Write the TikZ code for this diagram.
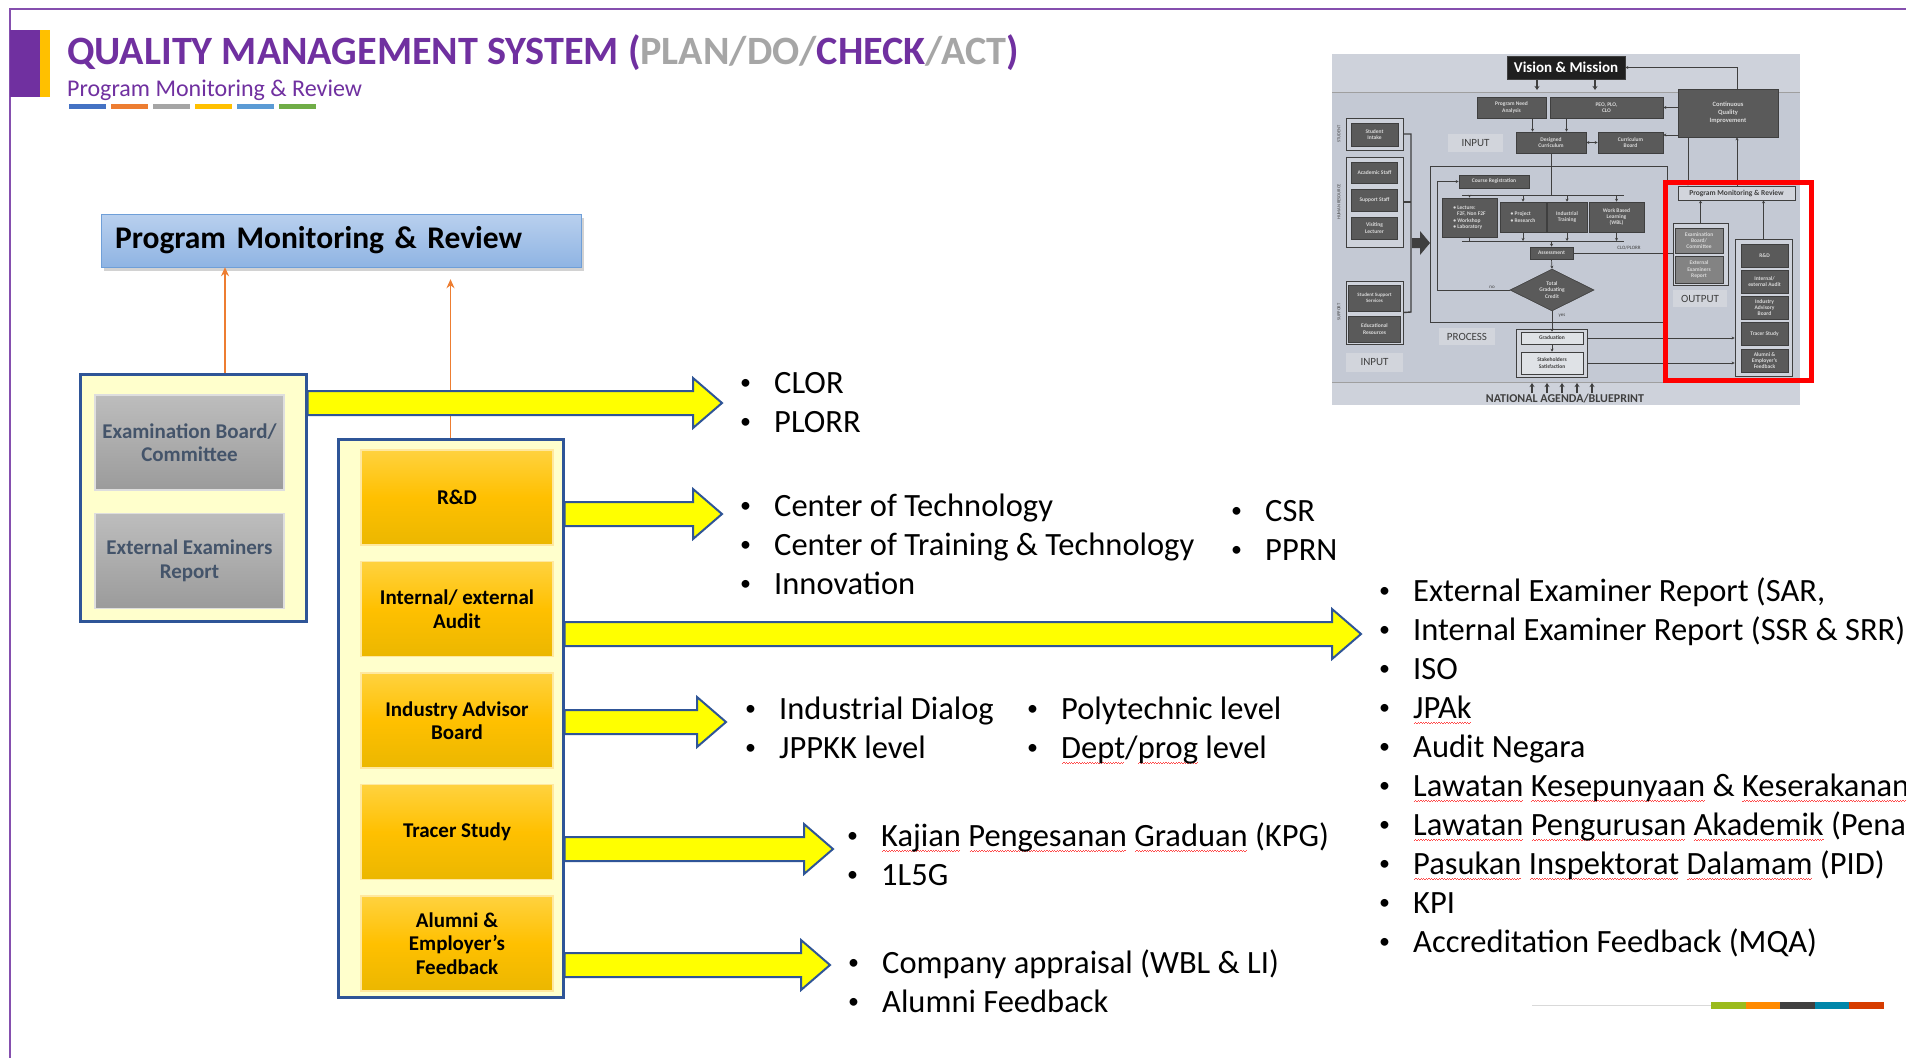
\documentclass[tikz,border=0pt]{standalone}
\usepackage{fontspec}
\setmainfont{Carlito}
\usetikzlibrary{calc,positioning,shadows,shapes.geometric,arrows.meta}

\definecolor{qpurple}{HTML}{7030A0}
\definecolor{qlight}{HTML}{A6A6A6}
\definecolor{qframe}{HTML}{2F5597}
\definecolor{qcream}{HTML}{FFFFCC}
\definecolor{qarrow}{HTML}{ED7D31}
\definecolor{qyellow}{HTML}{FFFF00}
\definecolor{qgold}{HTML}{FFC000}
\definecolor{qgoldtop}{HTML}{FFD23F}
\definecolor{qgoldbot}{HTML}{EBB700}
\definecolor{qslate}{HTML}{44546A}
\definecolor{qgreytop}{HTML}{BDBDBD}
\definecolor{qgreybot}{HTML}{9B9B9B}
\definecolor{qskytop}{HTML}{B9D0EE}
\definecolor{qskybot}{HTML}{8FB4E3}
\definecolor{qskyline}{HTML}{6F9FD8}
\definecolor{qbarA}{HTML}{4472C4}
\definecolor{qbarB}{HTML}{ED7D31}
\definecolor{qbarC}{HTML}{A5A5A5}
\definecolor{qbarD}{HTML}{FFC000}
\definecolor{qbarE}{HTML}{5B9BD5}
\definecolor{qbarF}{HTML}{70AD47}
\definecolor{qfootA}{HTML}{9BBB1C}
\definecolor{qfootB}{HTML}{FF8A00}
\definecolor{qfootC}{HTML}{404040}
\definecolor{qfootD}{HTML}{0086AA}
\definecolor{qfootE}{HTML}{D63C00}
\definecolor{qthbg}{HTML}{C4C9D4}
\definecolor{qthband}{HTML}{CED2DB}
\definecolor{qthbox}{HTML}{5A5A5A}
\definecolor{qthtext}{HTML}{D9D9D9}
\definecolor{qthline}{HTML}{3F3F3F}
\definecolor{qthlab}{HTML}{D2D5DC}

% red spell-check wave under a word
\newcommand\sq[1]{\setbox0=\hbox{#1}\rlap{\textcolor{red!70}{\hbox to\wd0{\cleaders\hbox{\rule[-6.2pt]{1.3pt}{1pt}\rule[-4.9pt]{1.3pt}{1pt}}\hfil}}}\box0\relax}
\newcommand\bl{\makebox[34pt][l]{\raisebox{3.5pt}{\fontsize{22}{22}\selectfont\textbullet}}}
\newcommand\blist[1]{\begin{tabular}[t]{@{}l@{}}#1\end{tabular}}
% yellow block arrow from #1 to tip #2 (same height)
\newcommand\yarrow[2]{%
  \draw[yarr] let \p1=(#1), \p2=(#2) in
    (\x1,\y1+12) -- (\x2-29,\y1+12) -- (\x2-29,\y1+25) -- (\x2,\y1)
    -- (\x2-29,\y1-25) -- (\x2-29,\y1-12) -- (\x1,\y1-12) -- cycle;}

\begin{document}
\begin{tikzpicture}
  [
    x=1pt,y=-1pt,
    pmrbox/.style={rectangle,draw=qskyline,top color=qskytop,bottom color=qskybot,
      drop shadow={shadow xshift=3pt,shadow yshift=-4pt,opacity=.35},
      minimum height=53pt,text width=452pt,inner xsep=14pt,align=left,
      font=\bfseries\fontsize{31.5}{34}\selectfont},
    holder/.style={rectangle,draw=qframe,line width=3pt,fill=qcream},
    exambox/.style={rectangle,top color=qgreytop,bottom color=qgreybot,
      draw=qgreytop!50!white,line width=1.5pt,minimum width=189pt,minimum height=95pt,
      align=center,text=qslate,font=\bfseries\fontsize{21}{23.5}\selectfont},
    unitbox/.style={rectangle,top color=qgoldtop,bottom color=qgoldbot,middle color=qgold,
      draw=qgoldtop!50!white,line width=1.5pt,minimum width=192pt,minimum height=95pt,
      align=center,font=\bfseries\fontsize{21}{23.5}\selectfont},
    uparr/.style={draw=qarrow,line width=1.6pt,-{Stealth[length=9pt,width=8pt]}},
    yarr/.style={fill=qyellow,draw=qframe,line width=2pt,line join=miter},
    blist/.style={anchor=base west,inner sep=0pt,font=\fontsize{32.5}{39}\selectfont},
    tbox/.style={rectangle,fill=qthbox,draw=qthline,line width=.6pt,text=qthtext,
      align=center,inner sep=.5pt,font=\bfseries\fontsize{5.5}{6.3}\selectfont},
    tlab/.style={rectangle,fill=qthlab,text=qthline,inner sep=0pt,font=\fontsize{11}{12}\selectfont},
    tgrp/.style={rectangle,draw=qthline,line width=.8pt,fill=qthband},
    tline/.style={draw=qthline,line width=.7pt},
    tarr/.style={tline,-{Stealth[length=3pt,width=3pt]}},
    tnote/.style={inner sep=0pt,text=qthline,font=\fontsize{5}{6}\selectfont}
  ]
  \useasboundingbox (0,0) rectangle (1906,1058);
  \clip (0,0) rectangle (1906,1058);
  \fill[white] (0,0) rectangle (1906,1058);

  % slide frame and heading
  \draw[qpurple!85,line width=1.5pt] (1906,9) -- (10,9) -- (10,1058);
  \fill[qpurple] (10,30) rectangle (40,97);
  \fill[qgold] (40,30) rectangle (50,97);
  \node[anchor=base west,inner sep=0pt,text=qpurple,font=\bfseries\fontsize{40.2}{44}\selectfont] (title) at (67,64)
    {QUALITY MANAGEMENT SYSTEM (\textcolor{qlight}{PLAN/DO/}CHECK\textcolor{qlight}{/ACT})};
  \node[anchor=base west,inner sep=0pt,text=qpurple,font=\fontsize{24}{28}\selectfont] (subtitle) at (67,96)
    {Program Monitoring \& Review};
  \foreach \c [count=\i from 0] in {qbarA,qbarB,qbarC,qbarD,qbarE,qbarF}
    \fill[\c] (69+42*\i,104) rectangle ++(37,5);

  % main boxes
  \node[pmrbox] (pmr) at (341,240.5) {Program Monitoring \& Review};
  \node[holder,minimum width=226pt,minimum height=247pt] (exams) at (193,497.5) {};
  \node[exambox] (exb) at (189.5,442.5) {Examination Board/\\Committee};
  \node[exambox,below=22pt of exb] (eer) {External Examiners\\Report};
  \node[holder,minimum width=225pt,minimum height=558pt] (outs) at (450.5,718) {};
  \node[unitbox] (rd) at (457,497.5) {R\&D};
  \node[unitbox,below=15pt of rd] (ia) {Internal/ external\\Audit};
  \node[unitbox,below=15pt of ia] (iab) {Industry Advisor\\Board};
  \node[unitbox,below=15pt of iab] (ts) {Tracer Study};
  \node[unitbox,below=15pt of ts] (aef) {Alumni \&\\Employer’s\\Feedback};

  % feeds up to the review box
  \coordinate (a1) at ([xshift=32pt]exams.north);
  \coordinate (a2) at ([yshift=-12pt]pmr.south);
  \draw[uparr] (a1) -- (a1 |- pmr.south);
  \draw[uparr] (outs.north) -- (a2 -| outs.north);

  % outputs
  \coordinate (t1) at (722,403);
  \coordinate (t2) at (722,514);
  \coordinate (t3) at (1361,634);
  \coordinate (t4) at (726,722);
  \coordinate (t5) at (833,849);
  \coordinate (t6) at (830,965);
  \yarrow{exams.east|-t1}{t1}
  \yarrow{outs.east|-t2}{t2}
  \yarrow{outs.east|-t3}{t3}
  \yarrow{outs.east|-t4}{t4}
  \yarrow{outs.east|-t5}{t5}
  \yarrow{outs.east|-t6}{t6}

  \node[blist] (clor) at (740,393) {\blist{\bl CLOR\\\bl PLORR}};
  \node[blist] (centres) at (740,516) {\blist{\bl Center of Technology\\\bl Center of Training \& Technology\\\bl Innovation}};
  \node[blist] (csr) at (1231,521) {\blist{\bl CSR\\\bl PPRN}};
  \node[blist] (audits) at (1379,601) {\blist{\bl External Examiner Report (SAR,\\
    \bl Internal Examiner Report (SSR \& SRR)\\
    \bl ISO\\
    \bl \sq{JPAk}\\
    \bl Audit Negara\\
    \bl \sq{Lawatan} \sq{Kesepunyaan} \& \sq{Keserakanan}\\
    \bl \sq{Lawatan} \sq{Pengurusan} \sq{Akademik} (Pena)\\
    \bl \sq{Pasukan} \sq{Inspektorat} \sq{Dalamam} (PID)\\
    \bl KPI\\
    \bl Accreditation Feedback (MQA)}};
  \node[blist] (dialog) at (745,719) {\blist{\bl Industrial Dialog\\\bl JPPKK level}};
  \node[blist] (levels) at (1027,719) {\blist{\bl Polytechnic level\\\bl \sq{Dept}/\sq{prog} level}};
  \node[blist] (kpg) at (847,846) {\blist{\bl \sq{Kajian} \sq{Pengesanan} \sq{Graduan} (KPG)\\\bl 1L5G}};
  \node[blist] (appraisal) at (848,973) {\blist{\bl Company appraisal (WBL \& LI)\\\bl Alumni Feedback}};

  % thumbnail of the whole QMS chart
  \fill[qthbg] (1332,54) rectangle (1800,405);
  \fill[qthband] (1332,54) rectangle (1800,92);
  \fill[qthband] (1332,382) rectangle (1800,405);
  \draw[qthline!50,line width=.8pt] (1332,92) -- (1800,92) (1332,382) -- (1800,382);
  \coordinate (tband) at (1332,90);

  \node[tbox,fill=black!88,text=white,minimum width=118pt,minimum height=23pt,
    font=\bfseries\fontsize{15}{16}\selectfont] (tvis) at (1566,67.5) {Vision \& Mission};
  \node[tbox,minimum width=100pt,minimum height=48pt,font=\bfseries\fontsize{6.5}{8}\selectfont] (tcqi) at (1728,113) {Continuous\\Quality\\Improvement};
  \node[tbox,minimum width=69pt,minimum height=21pt] (tpna) at (1511.5,107.5) {Program Need\\Analysis};
  \node[tbox,minimum width=113pt,minimum height=21pt] (tpeo) at (1606.5,107.5) {PEO, PLO,\\CLO};
  \node[tbox,minimum width=70pt,minimum height=21pt] (tdc) at (1551,142.5) {Designed\\Curriculum};
  \node[tbox,minimum width=65pt,minimum height=21pt] (tcb) at (1630.5,142.5) {Curriculum\\Board};
  \node[tlab,minimum width=55pt,minimum height=18pt] (tin1) at (1475.5,143) {INPUT};

  \node[tgrp,minimum width=57pt,minimum height=32pt] (tstu) at (1374.5,134) {};
  \node[tbox,minimum width=47pt,minimum height=23pt] (tsi) at (1374.5,134.5) {Student\\Intake};
  \node[tgrp,minimum width=57pt,minimum height=90pt] (thr) at (1374.5,202) {};
  \node[tbox,minimum width=46pt,minimum height=21pt] (tas) at (1374.5,172.5) {Academic Staff};
  \node[tbox,minimum width=46pt,minimum height=22pt] (tss) at (1374.5,200) {Support Staff};
  \node[tbox,minimum width=46pt,minimum height=22pt] (tvl) at (1374.5,228) {Visiting\\Lecturer};
  \node[tgrp,minimum width=57pt,minimum height=63pt] (tsup) at (1374.5,312.5) {};
  \node[tbox,minimum width=52pt,minimum height=26pt,font=\bfseries\fontsize{5}{6}\selectfont] (tsss) at (1374.5,298) {Student Support\\Services};
  \node[tbox,minimum width=52pt,minimum height=26pt] (ter) at (1374.5,329) {Educational\\Resources};
  \node[tlab,minimum width=57pt,minimum height=19pt] (tin2) at (1374.5,362.5) {INPUT};
  \node[tnote,rotate=90,font=\fontsize{4.5}{5}\selectfont] (tsl1) at (1339,134) {STUDENT};
  \node[tnote,rotate=90,font=\fontsize{4.5}{5}\selectfont] (tsl2) at (1339,202) {HUMAN RESOURCE};
  \node[tnote,rotate=90,font=\fontsize{4.5}{5}\selectfont] (tsl3) at (1339,312) {SUPPORT};

  \coordinate (tbt) at (1411,134);
  \coordinate (tbb) at (1411,312);
  \draw[tline,line width=1.4pt] (tstu.east) -- (tbt) -- (tbb) -- (tsup.east);
  \draw[tline,line width=1.4pt] (thr.east) -- (thr.east -| tbt);
  \fill[qthline] (1412,238) -- (1420,238) -- (1420,231) -- (1430,243) -- (1420,255) -- (1420,248) -- (1412,248) -- cycle;

  \node[draw=qthline,line width=.8pt,minimum width=237pt,minimum height=156pt] (tproc) at (1548.5,244) {};
  \node[tbox,minimum width=70pt,minimum height=13pt] (tcr) at (1494,181.5) {Course Registration};
  \node[tbox,minimum width=55pt,minimum height=39pt,align=left] (tlec) at (1469.5,217.5)
    {\textbullet\ Lecture:\\\ \ \ F2F, Non F2F\\\textbullet\ Workshop\\\textbullet\ Laboratory};
  \node[tbox,minimum width=46pt,minimum height=30pt,align=left] (tpr) at (1523,217) {\textbullet\ Project\\\textbullet\ Research};
  \node[tbox,minimum width=40pt,minimum height=30pt] (tit) at (1567,217) {Industrial\\Training};
  \node[tbox,minimum width=55pt,minimum height=30pt] (twbl) at (1616.5,217) {Work Based\\Learning\\(WBL)};
  \node[tbox,minimum width=43pt,minimum height=12pt] (tass) at (1551.5,253) {Assessment};
  \node[tbox,diamond,aspect=2,minimum width=84pt,minimum height=42pt,inner sep=0pt] (ttgc) at (1552,290) {Total\\Graduating\\Credit};
  \node[tlab,minimum width=56pt,minimum height=17pt] (tprl) at (1467,336.5) {PROCESS};

  \node[tgrp,fill=qthlab,minimum width=71pt,minimum height=48pt] (tgf) at (1551.5,353) {};
  \node[tbox,fill=qthlab!70!white,text=qthline,minimum width=62pt,minimum height=12pt] (tgrad) at (1552,338) {Graduation};
  \node[tbox,fill=qthlab!70!white,text=qthline,minimum width=62pt,minimum height=22pt] (tsat) at (1552,363) {Stakeholders\\Satisfaction};

  \node[tbox,fill=qthlab,text=qthline,minimum width=117pt,minimum height=14pt,
    font=\bfseries\fontsize{7.5}{8}\selectfont] (tpmr) at (1736.5,193) {Program Monitoring \& Review};
  \node[tgrp,minimum width=55pt,minimum height=62pt] (texg) at (1700.5,254) {};
  \node[tbox,fill=qthbox!75!white,minimum width=48pt,minimum height=25pt] (teb) at (1699,240.5) {Examination\\Board/\\Committee};
  \node[tbox,fill=qthbox!75!white,minimum width=48pt,minimum height=27pt] (tee) at (1699,269.5) {External\\Examiners\\Report};
  \node[tlab,minimum width=54pt,minimum height=17pt] (tout) at (1700,298.5) {OUTPUT};
  \node[tgrp,minimum width=57pt,minimum height=137pt] (trg) at (1763.5,307.5) {};
  \node[tbox,minimum width=47pt,minimum height=23pt] (trd) at (1764.5,255.5) {R\&D};
  \node[tbox,minimum width=47pt,minimum height=23pt] (tia) at (1764.5,281.5) {Internal/\\external Audit};
  \node[tbox,minimum width=47pt,minimum height=23pt] (tiab) at (1764.5,307.5) {Industry\\Advisory\\Board};
  \node[tbox,minimum width=47pt,minimum height=23pt] (tts) at (1764.5,334) {Tracer Study};
  \node[tbox,minimum width=47pt,minimum height=23pt] (tae) at (1764.5,360.5) {Alumni \&\\Employer’s\\Feedback};

  \node[tnote] (tclo) at (1629,248) {CLO/PLORR};
  \node[tnote] (tno) at (1492,287) {no};
  \node[tnote] (tyes) at (1562,316) {yes};
  \node[inner sep=0pt,text=qthline,font=\bfseries\fontsize{12}{13}\selectfont] (tnat) at (1565,399) {NATIONAL AGENDA/BLUEPRINT};

  % thumbnail connectors
  \coordinate (tv1) at ([xshift=-29pt]tvis.south);
  \coordinate (tv2) at ([xshift=29pt]tvis.south);
  \draw[tline,line width=1.8pt,-{Stealth[length=4pt,width=5pt]}] (tv1) -- (tv1 |- tband);
  \draw[tline,line width=1.8pt,-{Stealth[length=4pt,width=5pt]}] (tv2) -- (tv2 |- tband);
  \coordinate (tq1) at ([xshift=-40pt]tcqi.south);
  \coordinate (tq2) at ([xshift=9pt]tcqi.south);
  \coordinate (tq3) at ([xshift=9pt]tcqi.north);
  \coordinate (tq4) at (1678,135);
  \draw[tarr] (tq3) |- (tvis.east);
  \draw[tarr] (tcqi.west |- tpeo) -- (tpeo.east);
  \draw[tarr] (tq4) -- (tq4 -| tcb.east);
  \draw[tarr] (tq1) -- (tq1 |- tpmr.north);
  \draw[tarr] (tq2 |- tpmr.north) -- (tq2);
  \coordinate (tp1) at ([xshift=21pt]tpna.south);
  \coordinate (tp2) at ([xshift=-40pt]tpeo.south);
  \draw[tarr] (tp1) -- (tp1 |- tdc.north);
  \draw[tarr] (tp2) -- (tp2 |- tdc.north);
  \draw[tline,{Stealth[length=3pt,width=3pt]}-{Stealth[length=3pt,width=3pt]}] (tdc.east) -- (tcb.west);

  \coordinate (tdl) at (1462,195);
  \coordinate (tdr) at (1624,195);
  \coordinate (tcl) at (1462,241);
  \coordinate (tcrr) at (1624,241);
  \draw[tline] (tdc.south) -- (tdc.south |- tdl);
  \draw[tline] (tdl) -- (tdr);
  \draw[tline] (tcl) -- (tcrr);
  \foreach \n in {tlec,tpr,tit,twbl}
    \draw[tarr] (\n.north |- tdl) -- (\n.north);
  \foreach \n in {tpr,tit,twbl}
    \draw[tarr] (\n.south) -- (\n.south |- tcl);
  \draw[tline] (tlec.south) -- (tlec.south |- tcl);
  \draw[tarr] (tass.north |- tcl) -- (tass.north);
  \draw[tarr] (tass.south) -- (ttgc.north);
  \draw[tarr] (ttgc.south) -- (tgrad.north);
  \coordinate (tloop) at (1437,290);
  \draw[tarr] (ttgc.west) -- (tloop) |- (tcr.west);
  \draw[tline] (tass.east) -- (tass.east -| texg.west);
  \draw[tarr] (tgrad.south) -- (tsat.north);
  \draw[tarr] (tgf.east |- tgrad) -- (trg.west |- tgrad);
  \draw[tarr] (tgf.east |- tsat) -- (trg.west |- tsat);
  \draw[tarr] (texg.north) -- (texg.north |- tpmr.south);
  \draw[tarr] (trg.north) -- (trg.north |- tpmr.south);
  \foreach \x in {1532,1547,1562,1577,1592}
    \draw[tline,line width=1.5pt,-{Stealth[length=4pt,width=5pt]}] (\x,393) -- (\x,383);

  \node[draw=red,line width=5pt,minimum width=146pt,minimum height=198pt] (focus) at (1738,281) {};

  % footer
  \draw[black!15,line width=1pt] (1532,1005) -- (1711,1005);
  \foreach \c [count=\i from 0] in {qfootA,qfootB,qfootC,qfootD,qfootE}
    \fill[\c] (1711+34.6*\i,1001.5) rectangle ++(34.6,7);
\end{tikzpicture}
\end{document}
